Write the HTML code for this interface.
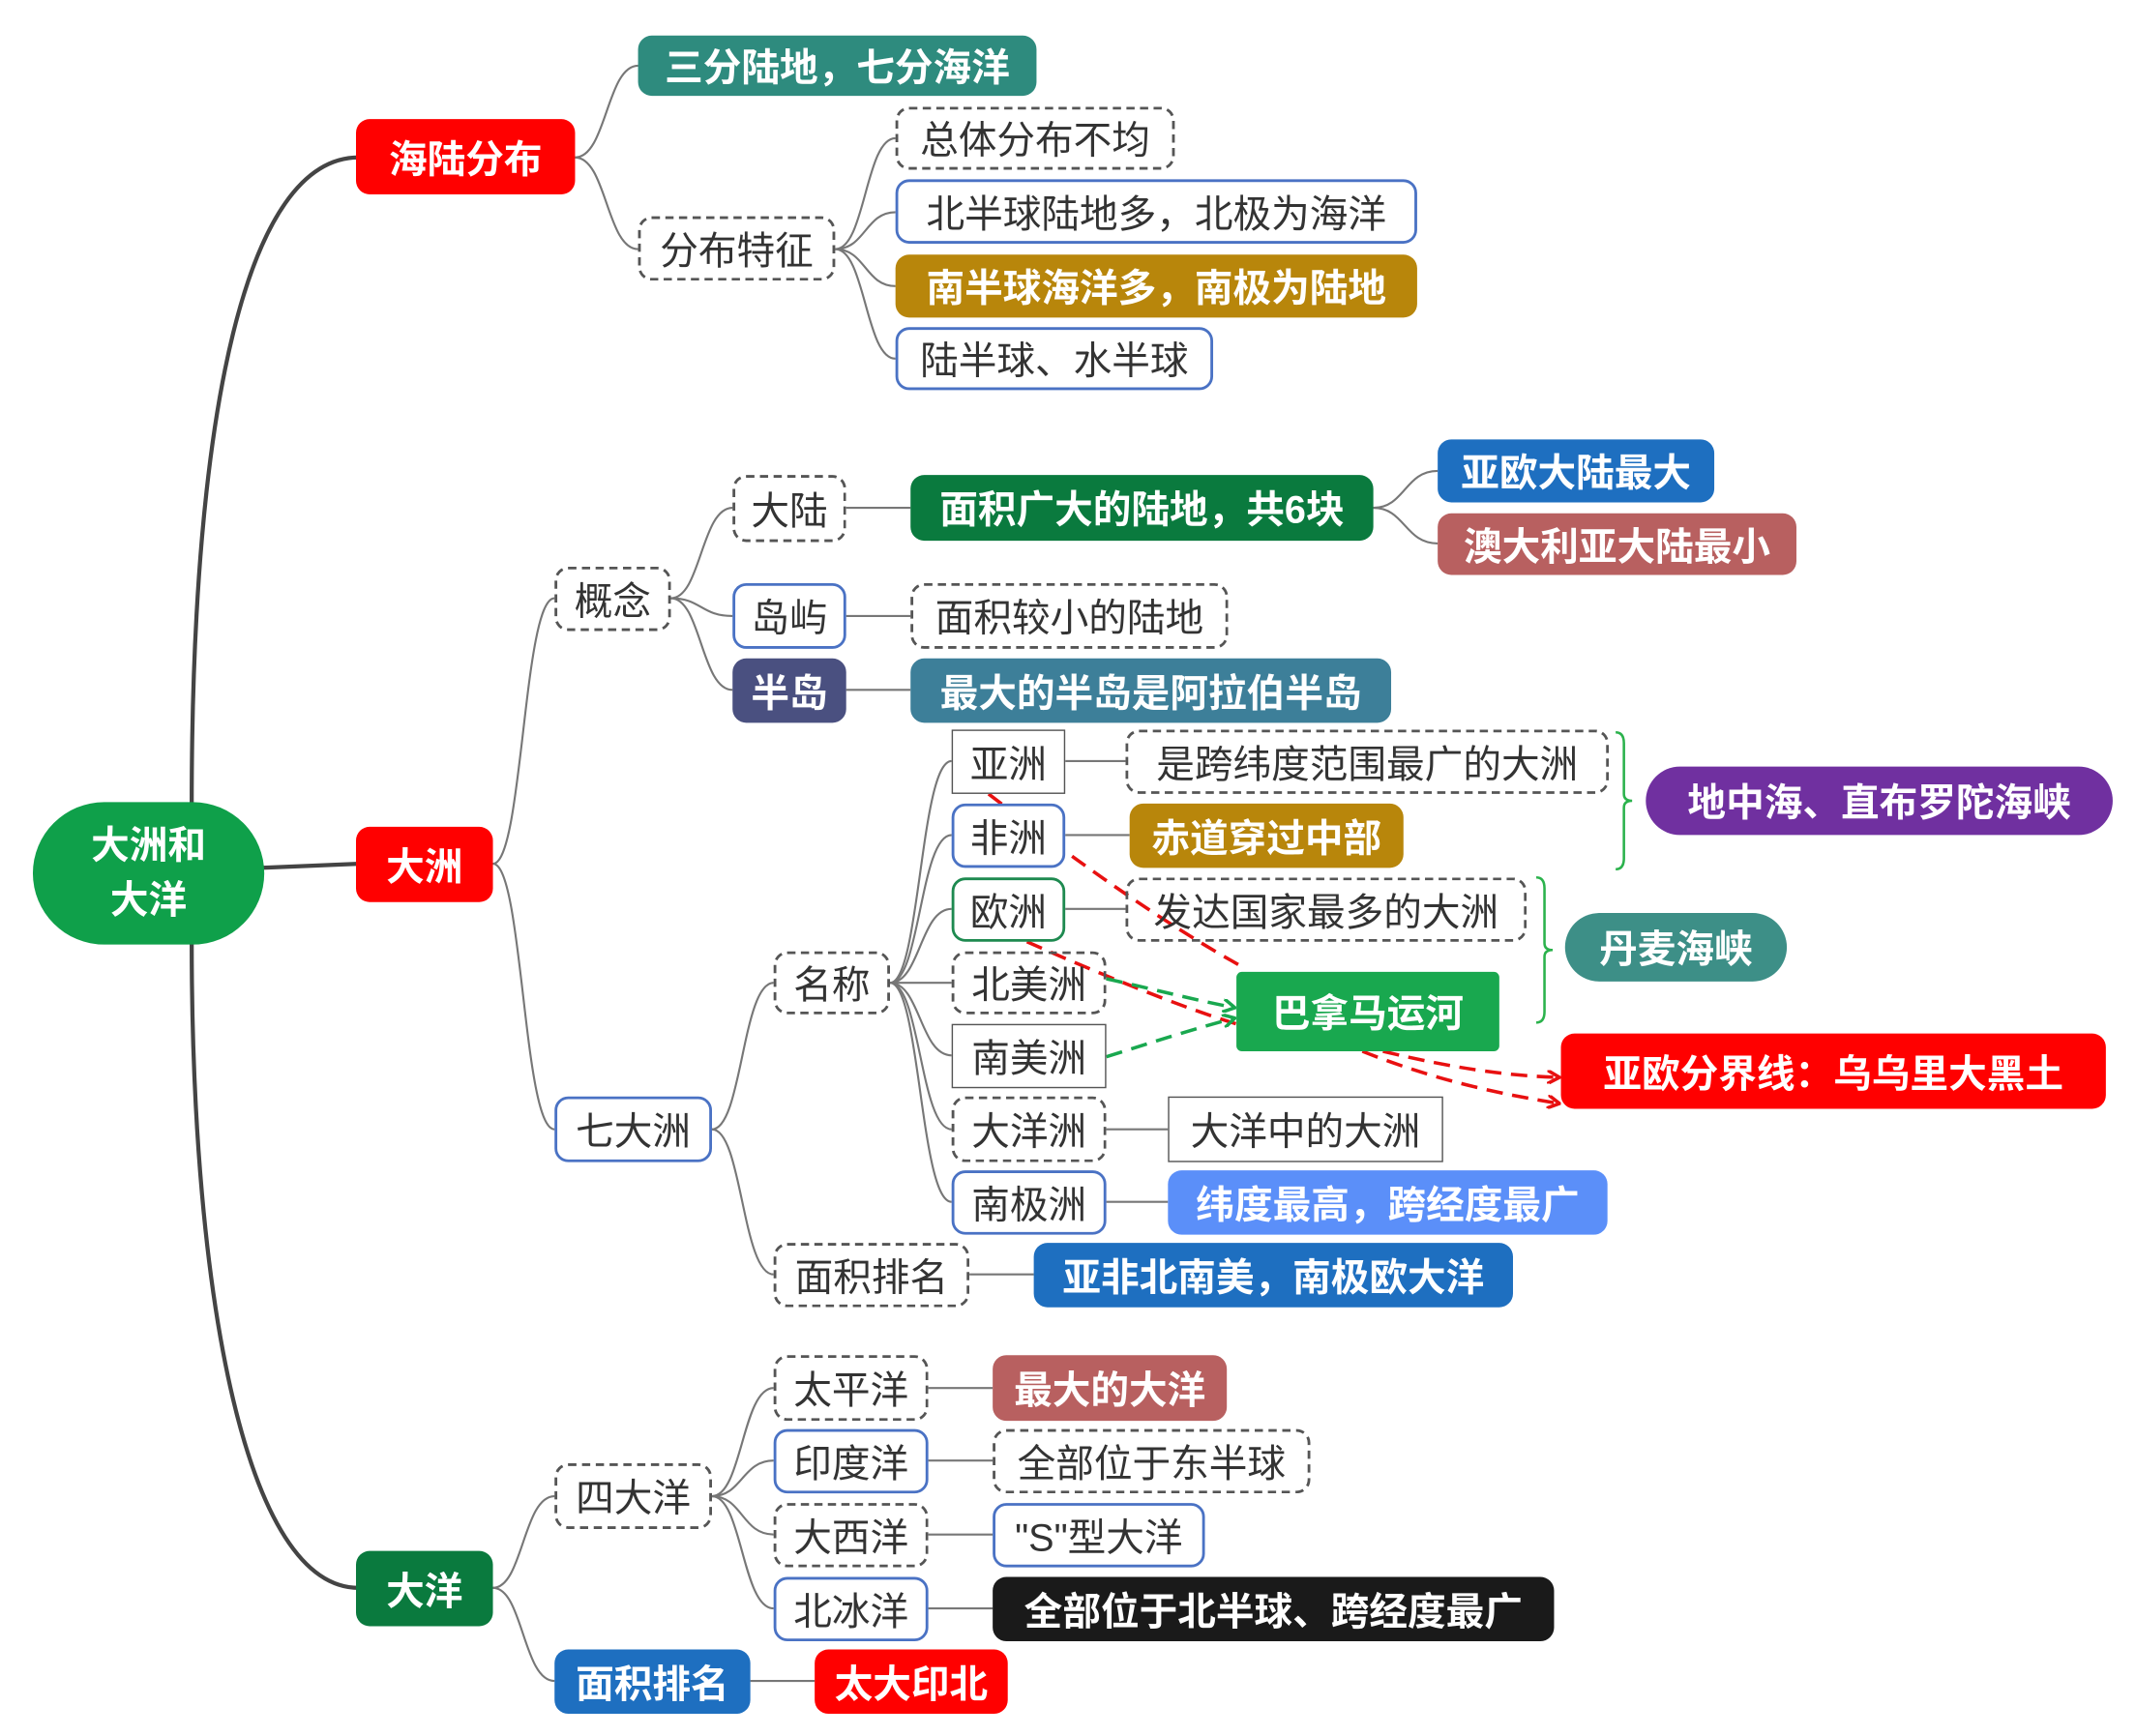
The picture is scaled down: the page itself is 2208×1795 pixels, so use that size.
<!DOCTYPE html>
<html><head><meta charset="utf-8"><style>
html,body{margin:0;padding:0;background:#fff;width:2208px;height:1794px;overflow:hidden}
#w{position:absolute;left:0;top:0;width:1560px;height:1268px;transform:scale(1.41538);transform-origin:0 0}
.n{position:absolute;box-sizing:border-box;display:flex;align-items:center;justify-content:center;font-family:"Liberation Sans","Noto Sans CJK SC",sans-serif;font-size:28px;white-space:nowrap;border-radius:10px;color:#333}
.f{color:#fff;font-weight:bold}
.d{border:2px dashed #555}
.b{border:2px solid #4a72c4;background:#fff}
.r{border:1.5px solid #555;border-radius:0;background:#fff}
.g{border:2px solid #1e8a50;background:#fff}
svg{position:absolute;left:0;top:0}
</style></head><body><div id="w">
<svg width="1560" height="1268" viewBox="0 0 1560 1268">
<defs>
<marker id="ar" markerWidth="10" markerHeight="10" refX="8" refY="5" orient="auto" markerUnits="userSpaceOnUse"><path d="M0,0 L9,5 L0,10" fill="none" stroke="#e81010" stroke-width="2.5"/></marker>
<marker id="ag" markerWidth="10" markerHeight="10" refX="8" refY="5" orient="auto" markerUnits="userSpaceOnUse"><path d="M0,0 L9,5 L0,10" fill="none" stroke="#19a84f" stroke-width="2.5"/></marker>
</defs>
<g fill="none" stroke="#444" stroke-width="3">
<path d="M140 588 C140 300 180 115 262 115"/>
<path d="M190 634 L262 631"/>
<path d="M140 688 C140 950 180 1160 262 1160"/>
</g>
<g fill="none" stroke="#777" stroke-width="1.5">
<path d="M420 115 C443 115 443 48 466 48"/>
<path d="M420 115 C443 115 443 182 466 182"/>
<path d="M610 182 C632 182 632 101 654 101"/>
<path d="M610 182 C632 182 632 155 654 155"/>
<path d="M610 182 C632 182 632 209 654 209"/>
<path d="M610 182 C632 182 632 262 654 262"/>
<path d="M360 631 C382 631 382 437 405 437"/>
<path d="M360 631 C382 631 382 825 405 825"/>
<path d="M490 437 C512 437 512 371 535 371"/>
<path d="M490 437 C512 437 512 450 535 450"/>
<path d="M490 437 C512 437 512 504 535 504"/>
<path d="M618 371 H665 M618 450 H665 M618 504 H665"/>
<path d="M1003 371 C1026 371 1026 344 1050 344"/>
<path d="M1003 371 C1026 371 1026 397 1050 397"/>
<path d="M520 825 C542 825 542 718 565 718"/>
<path d="M520 825 C542 825 542 931 565 931"/>
<path d="M650 718 C672 718 672 556 695 556"/>
<path d="M650 718 C672 718 672 610 695 610"/>
<path d="M650 718 C672 718 672 664 695 664"/>
<path d="M650 718 L695 718"/>
<path d="M650 718 C672 718 672 771 695 771"/>
<path d="M650 718 C672 718 672 825 695 825"/>
<path d="M650 718 C672 718 672 878 695 878"/>
<path d="M778 556 H822 M778 610 H825 M778 664 H822 M808 825 H853 M808 878 H853 M708 931 H755"/>
<path d="M360 1160 C382 1160 382 1093 405 1093"/>
<path d="M360 1160 C382 1160 382 1228 405 1228"/>
<path d="M520 1093 C542 1093 542 1014 565 1014"/>
<path d="M520 1093 C542 1093 542 1067 565 1067"/>
<path d="M520 1093 C542 1093 542 1121 565 1121"/>
<path d="M520 1093 C542 1093 542 1175 565 1175"/>
<path d="M678 1014 H725 M678 1067 H725 M678 1121 H725 M678 1175 H725 M548 1228 H595"/>
</g>
<g fill="none" stroke="#2bb24c" stroke-width="1.8">
<path d="M1180 535 q6 0 6 8 v37 q0 5 6 5 q-6 0 -6 5 v37 q0 8 -6 8"/>
<path d="M1122 641 q6 0 6 8 v40 q0 5 6 5 q-6 0 -6 5 v40 q0 8 -6 8"/>
</g>
<g fill="none" stroke="#e81010" stroke-width="2.5" stroke-dasharray="12 7">
<path d="M722 580 C800 640 860 680 905 705 M995 768 C1050 790 1100 800 1138 806" marker-end="url(#ar)"/>
<path d="M750 688 C800 710 860 735 903 748 M1010 768 C1060 780 1100 786 1138 787" marker-end="url(#ar)"/>
</g>
<g fill="none" stroke="#19a84f" stroke-width="2.5" stroke-dasharray="12 7">
<path d="M808 715 C840 722 870 730 901 736" marker-end="url(#ag)"/>
<path d="M808 772 C840 762 870 752 901 744" marker-end="url(#ag)"/>
</g>
</svg>
<div class="n f" style="left:24px;top:586px;width:169px;height:104px;border-radius:52px;background:#0fa04a;flex-direction:column;line-height:40px;text-align:center">大洲和<br>大洋</div>
<div class="n f" style="left:260px;top:87px;width:160px;height:55px;background:#f00">海陆分布</div>
<div class="n f" style="left:260px;top:604px;width:100px;height:55px;background:#f00">大洲</div>
<div class="n f" style="left:260px;top:1133px;width:100px;height:55px;background:#0a7a3e">大洋</div>
<div class="n f" style="left:466px;top:26px;width:291px;height:44px;background:#2e8b7e">三分陆地，七分海洋</div>
<div class="n d" style="left:466px;top:158px;width:144px;height:47px">分布特征</div>
<div class="n d" style="left:654px;top:78px;width:204px;height:46px">总体分布不均</div>
<div class="n b" style="left:654px;top:131px;width:381px;height:47px">北半球陆地多，北极为海洋</div>
<div class="n f" style="left:654px;top:186px;width:381px;height:46px;background:#b8860b">南半球海洋多，南极为陆地</div>
<div class="n b" style="left:654px;top:239px;width:232px;height:46px">陆半球、水半球</div>
<div class="n d" style="left:405px;top:414px;width:85px;height:47px">概念</div>
<div class="n d" style="left:535px;top:347px;width:83px;height:49px">大陆</div>
<div class="n b" style="left:535px;top:426px;width:83px;height:48px">岛屿</div>
<div class="n f" style="left:535px;top:481px;width:83px;height:47px;background:#4a5080">半岛</div>
<div class="n f" style="left:665px;top:347px;width:338px;height:48px;background:#0a7a3e">面积广大的陆地，共6块</div>
<div class="n f" style="left:1050px;top:321px;width:202px;height:46px;background:#1e6fc0">亚欧大陆最大</div>
<div class="n f" style="left:1050px;top:375px;width:262px;height:45px;background:#b86060">澳大利亚大陆最小</div>
<div class="n d" style="left:665px;top:426px;width:232px;height:48px">面积较小的陆地</div>
<div class="n f" style="left:665px;top:481px;width:351px;height:47px;background:#3d7f99">最大的半岛是阿拉伯半岛</div>
<div class="n b" style="left:405px;top:801px;width:115px;height:48px">七大洲</div>
<div class="n d" style="left:565px;top:695px;width:85px;height:46px">名称</div>
<div class="n d" style="left:565px;top:908px;width:143px;height:47px">面积排名</div>
<div class="n f" style="left:755px;top:908px;width:350px;height:47px;background:#1e6fc0">亚非北南美，南极欧大洋</div>
<div class="n r" style="left:695px;top:533px;width:83px;height:47px">亚洲</div>
<div class="n b" style="left:695px;top:587px;width:83px;height:47px">非洲</div>
<div class="n g" style="left:695px;top:641px;width:83px;height:47px">欧洲</div>
<div class="n d" style="left:695px;top:695px;width:113px;height:46px">北美洲</div>
<div class="n r" style="left:695px;top:748px;width:113px;height:47px">南美洲</div>
<div class="n d" style="left:695px;top:801px;width:113px;height:48px">大洋洲</div>
<div class="n b" style="left:695px;top:855px;width:113px;height:47px">南极洲</div>
<div class="n d" style="left:822px;top:533px;width:353px;height:47px">是跨纬度范围最广的大洲</div>
<div class="n f" style="left:825px;top:587px;width:200px;height:47px;background:#b8860b">赤道穿过中部</div>
<div class="n d" style="left:822px;top:641px;width:293px;height:47px">发达国家最多的大洲</div>
<div class="n r" style="left:853px;top:801px;width:201px;height:48px">大洋中的大洲</div>
<div class="n f" style="left:853px;top:855px;width:321px;height:47px;background:#5b8ff9">纬度最高，跨经度最广</div>
<div class="n f" style="left:903px;top:710px;width:192px;height:58px;background:#19a84f;border-radius:4px">巴拿马运河</div>
<div class="n f" style="left:1140px;top:755px;width:398px;height:55px;background:#f00">亚欧分界线：乌乌里大黑土</div>
<div class="n f" style="left:1202px;top:560px;width:341px;height:50px;background:#7030a0;border-radius:25px">地中海、直布罗陀海峡</div>
<div class="n f" style="left:1143px;top:667px;width:162px;height:50px;background:#3d8f87;border-radius:25px">丹麦海峡</div>
<div class="n d" style="left:405px;top:1069px;width:115px;height:48px">四大洋</div>
<div class="n f" style="left:405px;top:1205px;width:143px;height:47px;background:#1e6fc0">面积排名</div>
<div class="n f" style="left:595px;top:1205px;width:141px;height:47px;background:#f00">太大印北</div>
<div class="n d" style="left:565px;top:990px;width:113px;height:48px">太平洋</div>
<div class="n b" style="left:565px;top:1044px;width:113px;height:47px">印度洋</div>
<div class="n d" style="left:565px;top:1098px;width:113px;height:47px">大西洋</div>
<div class="n b" style="left:565px;top:1152px;width:113px;height:47px">北冰洋</div>
<div class="n f" style="left:725px;top:990px;width:171px;height:48px;background:#b86060">最大的大洋</div>
<div class="n d" style="left:725px;top:1044px;width:232px;height:47px">全部位于东半球</div>
<div class="n b" style="left:725px;top:1098px;width:155px;height:47px">"S"型大洋</div>
<div class="n f" style="left:725px;top:1152px;width:410px;height:47px;background:#1a1a1a">全部位于北半球、跨经度最广</div>
</div></body></html>
